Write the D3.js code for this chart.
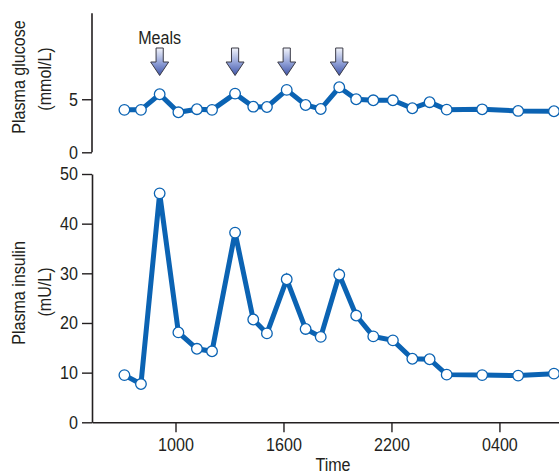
<!DOCTYPE html>
<html>
<head>
<meta charset="utf-8">
<script src="https://cdn.jsdelivr.net/npm/d3@7"></script>
<style>
  html, body { margin: 0; padding: 0; background: #fff; }
  svg { display: block; }
  text { font-family: "Liberation Sans", Arial, sans-serif; fill: #231f20; }
</style>
</head>
<body>
<svg id="chart" width="559" height="475"></svg>
<script>
// ---- data ----
const times = [7.16, 8.08, 9.12, 10.16, 11.19, 12.03, 13.31, 14.32, 15.08, 16.18, 17.23,
               18.07, 19.1, 20.04, 20.99, 22.08, 23.16, 24.12, 25.07, 27.04, 29.04, 31.03];
const glucose = [4.0, 4.0, 5.47, 3.77, 4.06, 4.0, 5.53, 4.3, 4.27, 5.88, 4.46,
                 4.08, 6.13, 5.0, 4.9, 4.9, 4.15, 4.72, 4.02, 4.05, 3.9, 3.87];
const insulin = [9.5, 7.7, 46.1, 18.1, 14.8, 14.3, 38.2, 20.7, 17.9, 28.8, 18.8,
                 17.2, 29.7, 21.5, 17.3, 16.5, 12.8, 12.7, 9.6, 9.5, 9.4, 9.8];
const mealTimes = [9.12, 13.31, 16.18, 19.1];
const timeTicks = [10, 16, 22, 28];
const timeTickLabels = ["1000", "1600", "2200", "0400"];
const glucoseTicks = [0, 5];
const insulinTicks = [0, 10, 20, 30, 40, 50];

// ---- layout ----
const svg = d3.select("#chart");
const blue = "#0b63b3";
const axisColor = "#231f20";
const NARROW = 0.87;   // horizontal compression to mimic a condensed face
const FS = "18.5px";
const x = d3.scaleLinear().domain([5.36, 31.31]).range([92, 559]);
const yG = d3.scaleLinear().domain([0, 13.1]).range([152.3, 13.3]);
const yI = d3.scaleLinear().domain([0, 50]).range([422.3, 174]);

// gradient for meal arrows
const defs = svg.append("defs");
const grad = defs.append("linearGradient").attr("id", "arrowGrad")
  .attr("x1", 0).attr("y1", 0).attr("x2", 0).attr("y2", 1);
grad.append("stop").attr("offset", "0%").attr("stop-color", "#f2f4fb");
grad.append("stop").attr("offset", "55%").attr("stop-color", "#8f9fd6");
grad.append("stop").attr("offset", "100%").attr("stop-color", "#3f55a8");

function styleAxis(g) {
  g.select(".domain").attr("stroke", axisColor).attr("stroke-width", 1.6);
  g.selectAll(".tick line").attr("stroke", axisColor).attr("stroke-width", 1.4);
  g.selectAll(".tick text").each(function() {
    const t = d3.select(this);
    const tx = +t.attr("x") || 0, ty = +t.attr("y") || 0;
    t.attr("x", 0).attr("y", 0)
     .attr("transform", `translate(${tx},${ty}) scale(${NARROW},1)`)
     .style("font-size", FS).attr("fill", axisColor);
  });
}

// glucose y axis
const gAxisG = svg.append("g").attr("transform", "translate(92,0)")
  .call(d3.axisLeft(yG).tickValues(glucoseTicks).tickSize(10).tickPadding(4).tickSizeOuter(0));
gAxisG.select(".domain").attr("d", `M0,${yG(13.1)}V${yG(0)}`);
styleAxis(gAxisG);

// insulin y axis
const iAxisG = svg.append("g").attr("transform", "translate(92,0)")
  .call(d3.axisLeft(yI).tickValues(insulinTicks).tickSize(10).tickPadding(4).tickSizeOuter(0));
styleAxis(iAxisG);

// time x axis
const xAxisG = svg.append("g").attr("transform", `translate(0,${yI(0)})`)
  .call(d3.axisBottom(x).tickValues(timeTicks)
    .tickFormat((d, i) => timeTickLabels[i]).tickSize(10).tickPadding(6).tickSizeOuter(0));
styleAxis(xAxisG);

// text helper
function label(cx, cy, txt, rot, baseline) {
  const t = svg.append("text")
    .attr("transform", `translate(${cx},${cy})${rot ? " rotate(-90)" : ""} scale(${NARROW},1)`)
    .attr("text-anchor", "middle")
    .style("font-size", FS).text(txt);
  if (baseline) t.attr("dominant-baseline", baseline);
  return t;
}
label(19, 77, "Plasma glucose", true, "central");
label(45, 79, "(mmol/L)", true, "central");
label(19, 293, "Plasma insulin", true, "central");
label(45, 292, "(mU/L)", true, "central");
label(333, 470.5, "Time", false);
label(x(mealTimes[0]), 43.5, "Meals", false);

// meal arrows
const arrowPath = "M-3.6,0 H3.6 V14 H9 L0,27.5 L-9,14 H-3.6 Z";
svg.selectAll(".meal").data(mealTimes).join("path")
  .attr("class", "meal")
  .attr("transform", d => `translate(${x(d)},48)`)
  .attr("d", arrowPath)
  .attr("fill", "url(#arrowGrad)")
  .attr("stroke", "#3a3a46").attr("stroke-width", 1);

// series
function drawSeries(vals, yScale) {
  const pts = times.map((t, i) => [t, vals[i]]);
  svg.append("path").datum(pts)
    .attr("fill", "none").attr("stroke", blue).attr("stroke-width", 5)
    .attr("stroke-linejoin", "miter").attr("stroke-miterlimit", 4)
    .attr("d", d3.line().x(d => x(d[0])).y(d => yScale(d[1])));
  svg.append("g").selectAll("circle").data(pts).join("circle")
    .attr("cx", d => x(d[0])).attr("cy", d => yScale(d[1])).attr("r", 5.3)
    .attr("fill", "#fff").attr("stroke", blue).attr("stroke-width", 1.3);
}
drawSeries(glucose, yG);
drawSeries(insulin, yI);
</script>
</body>
</html>
